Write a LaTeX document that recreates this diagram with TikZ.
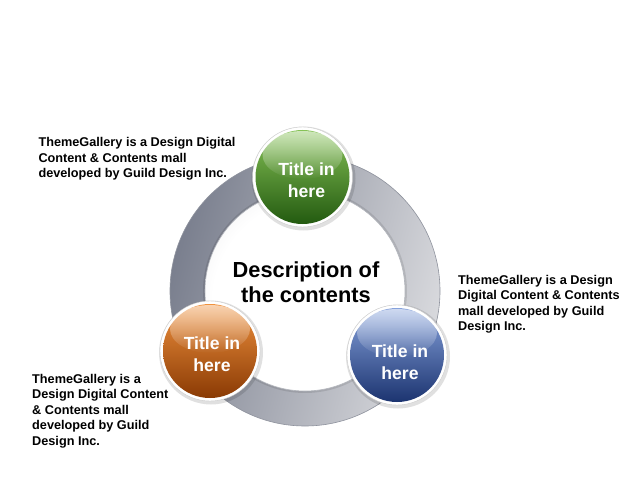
\documentclass[tikz,border=0pt]{standalone}
\usepackage{fontspec}
\setmainfont{Liberation Sans}
\usetikzlibrary{fadings,calc}
\definecolor{ringdark}{HTML}{7A7F8E}
\definecolor{ringmid}{HTML}{A6A9B2}
\definecolor{ringlight}{HTML}{D8D9DD}
\definecolor{ringedge}{HTML}{8E929D}
\definecolor{diskgray}{HTML}{E2E2E4}
\definecolor{diskedge}{HTML}{C4C5CA}
\definecolor{greenlight}{HTML}{86C256}
\definecolor{greenmid}{HTML}{45942A}
\definecolor{greendark}{HTML}{235A10}
\definecolor{orangelight}{HTML}{F0923E}
\definecolor{orangemid}{HTML}{CF640C}
\definecolor{orangedark}{HTML}{8A3A04}
\definecolor{bluelight}{HTML}{86A2DC}
\definecolor{bluemid}{HTML}{4064AE}
\definecolor{bluedark}{HTML}{1C3470}
\pgfdeclareradialshading{innerdisk}{\pgfpoint{6bp}{-6bp}}{color(0bp)=(white); color(26bp)=(white); color(42bp)=(diskgray); color(50bp)=(diskedge)}
\tikzfading[name=glossfade, top color=transparent!40, bottom color=transparent!100]
\tikzset{
  sidetext/.style={anchor=base west, align=left, inner sep=0pt, font=\fontsize{12.7}{15.5}\selectfont\bfseries, text=black},
  titletext/.style={align=center, inner sep=0pt, font=\fontsize{17.6}{21.7}\selectfont\bfseries, text=white},
  centertext/.style={align=center, inner sep=0pt, font=\fontsize{21.8}{25.4}\selectfont\bfseries, text=black},
}
\newcommand{\glossball}[5]{%
  \fill[black, opacity=0.12] ($#1+(1,1.5)$) circle (52pt);
  \fill[white] #1 circle (50pt);
  \draw[gray!40, line width=0.4pt] #1 circle (50pt);
  \shade[top color=#2, middle color=#3, bottom color=#4] #1 circle (47pt);
  \fill[white, path fading=glossfade] ($#1+(0,-22)$) ellipse (40pt and 24pt);
  \coordinate (#5) at #1;
}
\begin{document}
\begin{tikzpicture}[x=1pt,y=-1pt]
\useasboundingbox (0,0) rectangle (635,484);
\fill[white] (0,0) rectangle (635,484);
% ring
\coordinate (ringc) at (305,291);
\shade[left color=ringdark, middle color=ringmid, right color=ringlight, shading angle=75, even odd rule]
  (ringc) circle (135pt) (ringc) circle (100pt);
\draw[ringedge, line width=0.6pt] (ringc) circle (135pt);
% inner disk
\fill[black, opacity=0.10] (ringc) circle (102pt);
\shade[shading=innerdisk] (ringc) circle (100pt);
\draw[ringedge!70, line width=0.6pt] (ringc) circle (100pt);
\node[centertext] (desc) at (306,282) {Description of\\the contents};
% balls
\glossball{(302.5,177)}{greenlight}{greenmid}{greendark}{g}
\glossball{(210,351)}{orangelight}{orangemid}{orangedark}{o}
\glossball{(397,355)}{bluelight}{bluemid}{bluedark}{b}
\node[titletext] (gt) at ($(g)+(4,3)$) {Title in\\here};
\node[titletext] (ot) at ($(o)+(2,3)$) {Title in\\here};
\node[titletext] (bt) at ($(b)+(3,7)$) {Title in\\here};
% side texts (anchor = baseline of last line)
\node[sidetext] (t1) at (38.3,177.7) {ThemeGallery is a Design Digital\\Content \& Contents mall\\developed by Guild Design Inc.};
\node[sidetext] (t2) at (458,330.8) {ThemeGallery is a Design\\Digital Content \& Contents\\mall developed by Guild\\Design Inc.};
\node[sidetext] (t3) at (32,445.3) {ThemeGallery is a\\Design Digital Content\\\& Contents mall\\developed by Guild\\Design Inc.};
\end{tikzpicture}
\end{document}
